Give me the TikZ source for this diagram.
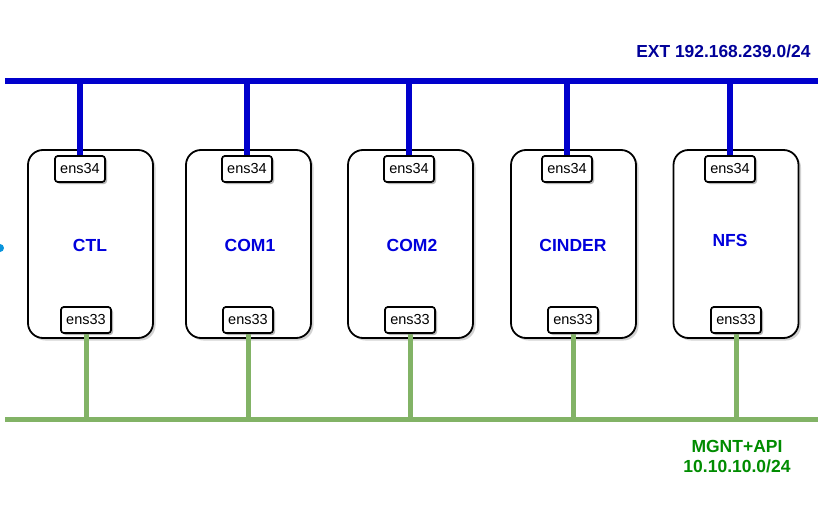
\documentclass[tikz,border=0pt]{standalone}
\usepackage{fontspec}
\setmainfont{Liberation Sans}
\usetikzlibrary{shadows}
\definecolor{extblue}{RGB}{0,0,204}
\definecolor{exttext}{RGB}{0,0,153}
\definecolor{mgline}{RGB}{130,179,102}
\definecolor{mgtext}{RGB}{0,140,0}
\definecolor{hostblue}{RGB}{0,0,220}
\tikzset{
  host/.style={draw=black, line width=1.8pt, fill=white, rounded corners=15pt,
    minimum width=125pt, minimum height=188pt, inner sep=0pt,
    drop shadow={shadow xshift=2.5pt, shadow yshift=-2.5pt, opacity=0.35, fill=gray}},
  port/.style={draw=black, line width=1.6pt, fill=white, rounded corners=3pt,
    minimum width=50pt, minimum height=26pt, inner sep=0pt, font=\fontsize{14.5}{14.5}\selectfont,
    drop shadow={shadow xshift=2pt, shadow yshift=-2pt, opacity=0.35, fill=gray}},
  hostname/.style={text=hostblue, font=\bfseries\fontsize{17.5}{17.5}\selectfont},
  extbus/.style={draw=extblue, line width=6pt},
  mgbus/.style={draw=mgline, line width=5pt},
}
\begin{document}
\begin{tikzpicture}[x=1pt,y=-1pt]
\useasboundingbox (0,0) rectangle (830,514);
\fill[white] (0,0) rectangle (830,514);
% buses
\coordinate (extL) at (5,81);
\coordinate (extR) at (818,81);
\coordinate (mgL) at (5,419);
\coordinate (mgR) at (818,419);
\draw[extbus] (extL) -- (extR);
\draw[mgbus] (mgL) -- (mgR);
\node[anchor=east, text=exttext, font=\bfseries\fontsize{17.4}{17.4}\selectfont] (extlabel) at (814,51) {EXT 192.168.239.0/24};
\node[align=center, text=mgtext, font=\bfseries\fontsize{17.5}{20}\selectfont] (mglabel) at (737,457) {MGNT+API\\10.10.10.0/24};
% hosts
\foreach \n/\cx/\tx/\bx/\lx/\ly in {CTL/90.5/80/86/90/245, COM1/248.5/247/248/250/245, COM2/410.5/409/410/412/245, CINDER/573.5/567/573/573/245, NFS/736/730/736/730/240}{
  \node[host] (h\n) at (\cx,244) {};
  \coordinate (t\n) at (\tx,81);
  \coordinate (b\n) at (\bx,419);
  \node[port] (p34\n) at (\tx,169) {ens34};
  \node[port] (p33\n) at (\bx,320) {ens33};
  \draw[extbus] (t\n) -- (p34\n.north);
  \draw[mgbus] (p33\n.south) -- (b\n);
  \node[port] at (\tx,169) {ens34};
  \node[port] at (\bx,320) {ens33};
  \node[hostname] (n\n) at (\lx,\ly) {\n};
}
% partial dot at the left edge
\fill[cyan!80!blue] (0,248) circle (4pt);
\end{tikzpicture}
\end{document}
